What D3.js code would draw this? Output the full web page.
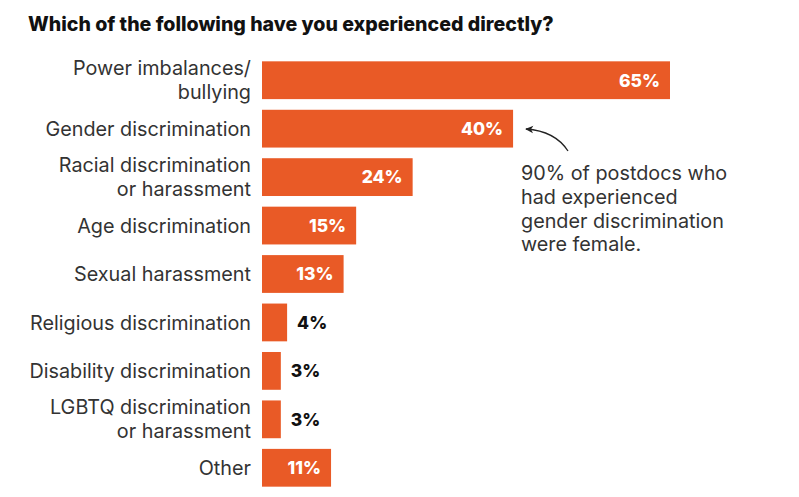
<!DOCTYPE html>
<html><head><meta charset="utf-8">
<script src="https://cdn.jsdelivr.net/npm/d3@7/dist/d3.min.js"></script>
<style>body{margin:0;background:#fff;} svg{display:block;}</style>
</head><body>
<svg id="c" width="799" height="497"></svg>
<script>
const categories = [
  ["Power imbalances/", "bullying"],
  ["Gender discrimination"],
  ["Racial discrimination", "or harassment"],
  ["Age discrimination"],
  ["Sexual harassment"],
  ["Religious discrimination"],
  ["Disability discrimination"],
  ["LGBTQ discrimination", "or harassment"],
  ["Other"]
];
const values = [65, 40, 24, 15, 13, 4, 3, 3, 11];
const annotationLines = ["90% of postdocs who", "had experienced", "gender discrimination", "were female."];
const title = "Which of the following have you experienced directly?";

const svg = d3.select("#c");
const font = "Inter, 'Noto Sans', sans-serif";
const orange = "#e95a26";

const x = d3.scaleLinear().domain([0, 65]).range([262, 670]);
const y = d3.scaleBand().domain(d3.range(values.length)).range([56, 492]).paddingInner(0.22).paddingOuter(0.11);

svg.append("text").attr("x", 28).attr("y", 31).attr("font-family", font).attr("font-weight", 800)
  .attr("font-size", 19.6).attr("fill", "#111").text(title);

const g = svg.append("g");
g.selectAll("rect").data(values).join("rect")
  .attr("x", x(0)).attr("y", (d, i) => y(i)).attr("width", d => x(d) - x(0)).attr("height", y.bandwidth())
  .attr("fill", orange);

g.selectAll("text.val").data(values).join("text").attr("class", "val")
  .attr("x", d => d >= 10 ? x(d) - 10 : x(d) + 10)
  .attr("y", (d, i) => y(i) + y.bandwidth() / 2)
  .attr("dy", "0.36em")
  .attr("text-anchor", d => d >= 10 ? "end" : "start")
  .attr("font-family", font).attr("font-weight", 800).attr("font-size", 17.5)
  .attr("fill", d => d >= 10 ? "#fff" : "#111")
  .text(d => d + "%");

categories.forEach((lines, i) => {
  const cy = y(i) + y.bandwidth() / 2;
  const lh = 24;
  const t = svg.append("text").attr("text-anchor", "end").attr("font-family", font)
    .attr("font-size", 19.8).attr("fill", "#333");
  lines.forEach((l, j) => {
    t.append("tspan").attr("x", 251).attr("y", cy + (j - (lines.length - 1) / 2) * lh).attr("dy", "0.36em").text(l);
  });
});

const at = svg.append("text").attr("font-family", font).attr("font-size", 19.8).attr("fill", "#333");
annotationLines.forEach((l, j) => {
  at.append("tspan").attr("x", 521).attr("y", 180 + j * 23.8).text(l);
});

svg.append("defs").append("marker").attr("id", "ah").attr("viewBox", "0 0 10 10").attr("refX", 8).attr("refY", 5)
  .attr("markerWidth", 7).attr("markerHeight", 7).attr("orient", "auto")
  .append("path").attr("d", "M0,1 L9,5 L0,9 L2.5,5 Z").attr("fill", "#222");
svg.append("path").attr("d", "M568,151 Q555,131 526,129").attr("fill", "none").attr("stroke", "#222")
  .attr("stroke-width", 1.3).attr("marker-end", "url(#ah)");
</script>
</body></html>
